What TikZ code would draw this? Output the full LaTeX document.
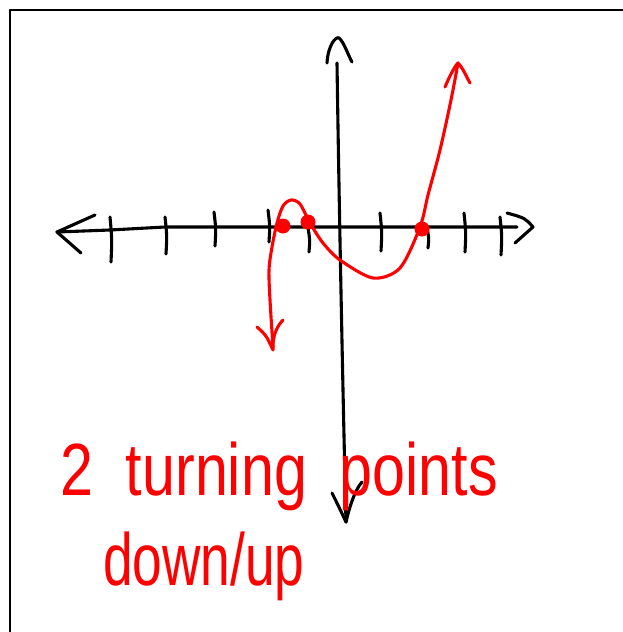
\documentclass[tikz,border=0pt]{standalone}
\usepackage{fontspec}
\setmainfont{Liberation Sans}
\begin{document}
\begin{tikzpicture}[x=1pt,y=-1pt,line cap=round,line join=round,
  ink/.style={black,line width=3.1pt},
  redink/.style={red,line width=3.1pt},
  rootdot/.style={circle,fill=red,inner sep=0pt,minimum width=12pt,minimum height=15pt},
  hand/.style={red,inner sep=0pt,anchor=base west,font=\fontsize{74}{80}\selectfont}]
\useasboundingbox (0,0) rectangle (622,632);
% frame
\draw[black,line width=2.8pt,line cap=butt] (10,633) -- (10,10) -- (623,10);
% x-axis
\draw[ink] (57,232) -- (110,230) -- (165,227) -- (340,227) -- (517,227);
\draw[ink] (95,215) -- (57,232) -- (81,253);
\draw[ink] (507,213) .. controls (525,218) .. (533,227) -- (515,243);
% ticks
\foreach \x/\a/\b in {110/217/262,165/217/254,214/212/246,268/210/242,308/228/252,380/213/251,427/228/248,464/213/252,500/217/255}
  \draw[ink] (\x,\a) .. controls (\x+2,{(\a+\b)/2}) .. (\x+1,\b);
% y-axis
\draw[ink] (337,63) .. controls (339,200) and (343,400) .. (346,522);
\draw[ink] (327,63) .. controls (328,45) and (336,36) .. (339,38) .. controls (344,42) and (348,55) .. (352,62);
\draw[ink] (332,493) .. controls (338,505) .. (346,522) .. controls (350,505) and (355,490) .. (362,482);
% red curve
\draw[redink] plot[smooth,tension=0.5] coordinates {(273,347) (270,300) (269,270) (272,247) (277,223) (283,206) (291,200) (300,204) (310,223) (323,243) (340,260) (373,278) (400,268) (420,227) (428,195) (440,150) (451,100) (458,63)};
\draw[redink] (257,327) .. controls (266,335) .. (273,350) .. controls (272,335) and (278,325) .. (283,320);
\draw[redink] (445,87) .. controls (450,75) and (455,66) .. (458,63) .. controls (463,68) and (467,78) .. (470,83);
% roots
\node[rootdot] (r1) at (283,226) {};
\node[rootdot] (r2) at (308,222) {};
\node[rootdot] (r3) at (422,229) {};
% text
\node[hand] (t1) at (60,495) {\scalebox{0.8}[1]{2~~turning~~points}};
\node[hand] (t2) at (103,585) {\scalebox{0.72}[1]{down/up}};
\end{tikzpicture}
\end{document}
